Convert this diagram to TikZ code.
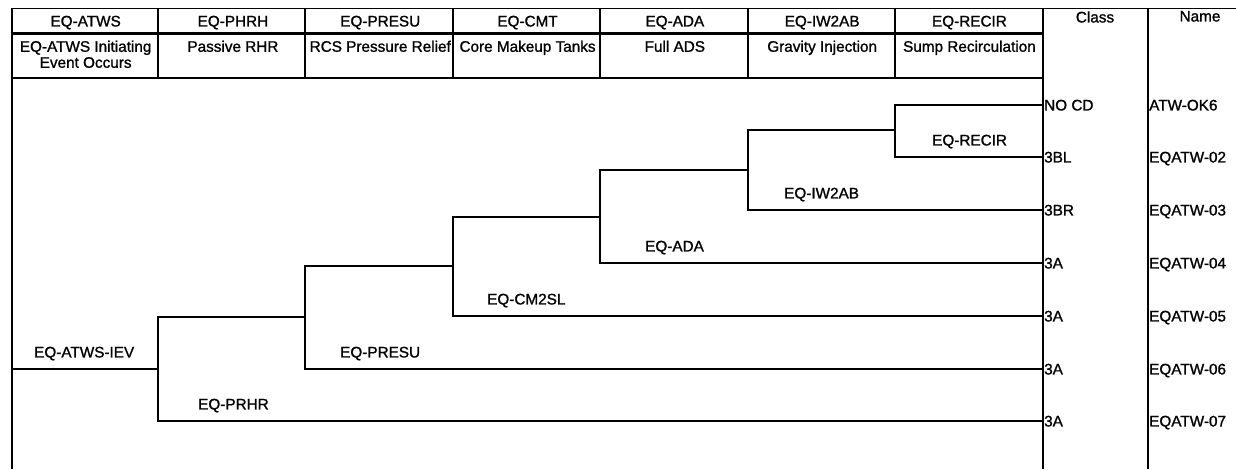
\documentclass[tikz,border=0pt]{standalone}
\usepackage{fontspec}
\setmainfont{Liberation Sans}[FakeBold=1.2]
\tikzset{
  txt/.style={inner sep=1pt, font=\fontsize{15.3}{16}\selectfont, text height=10.9pt, text depth=0pt},
  desc/.style={inner sep=0pt, font=\fontsize{15.3}{16}\selectfont, align=center, anchor=north},
  branch/.style={line width=1.2pt},
  rule/.style={line width=1.6pt},
}
\begin{document}
\begin{tikzpicture}[x=1pt, y=-1pt]
  \useasboundingbox (0,0) rectangle (1236,469);
  % table frame
  \draw[line width=0.8pt] (12,8) -- (1236,8);
  \draw[rule] (12,8) -- (12,469);
  \draw[line width=3pt] (12,33) -- (1043,33);
  \draw[rule] (12,78) -- (1043,78);
  \foreach \x in {158,305,453,600,748,895}
    \draw[rule] (\x,8) -- (\x,78);
  \draw[rule] (1043,8) -- (1043,469);
  \draw[rule] (1148,8) -- (1148,469);
  % column heads
  \foreach \hd [count=\i] in {EQ-ATWS,EQ-PHRH,EQ-PRESU,EQ-CMT,EQ-ADA,EQ-IW2AB,EQ-RECIR}
    \node (hd\i) [txt] at ({12+147.3*(\i-0.5)},21) {\hd};
  \foreach \ds [count=\i] in {{EQ-ATWS Initiating\\Event Occurs},Passive RHR,RCS Pressure Relief,Core Makeup Tanks,Full ADS,Gravity Injection,Sump Recirculation}
    \node (ds\i) [desc] at ({12+147.3*(\i-0.5)},40.5) {\ds};
  \node (hdclass) [txt] at (1095,17) {Class};
  \node (hdname) [txt] at (1200,16) {Name};

  % end states
  \foreach \y/\cls/\nm [count=\i] in {105/NO CD/ATW-OK6, 157/3BL/EQATW-02, 210/3BR/EQATW-03,
      263/3A/EQATW-04, 316/3A/EQATW-05, 369/3A/EQATW-06, 421/3A/EQATW-07} {
    \node (c\i) [txt, anchor=west] at (1043,\y) {\cls};
    \node (n\i) [txt, anchor=west] at (1148,\y) {\nm};
  }

  % branch points
  \coordinate (iev) at (12,369);
  \coordinate (prhr) at (158,369);
  \coordinate (presu) at (305,317);
  \coordinate (cmt) at (453,266);
  \coordinate (ada) at (600,217);
  \coordinate (iw2ab) at (748,170);
  \coordinate (recir) at (895,130);

  \draw[branch] (iev) -- (prhr);
  \draw[branch] (prhr) |- (presu);
  \draw[branch] (prhr) |- (c7.west);
  \draw[branch] (presu) |- (cmt);
  \draw[branch] (presu) |- (c6.west);
  \draw[branch] (cmt) |- (ada);
  \draw[branch] (cmt) |- (c5.west);
  \draw[branch] (ada) |- (iw2ab);
  \draw[branch] (ada) |- (c4.west);
  \draw[branch] (iw2ab) |- (recir);
  \draw[branch] (iw2ab) |- (c3.west);
  \draw[branch] (recir) |- (c1.west);
  \draw[branch] (recir) |- (c2.west);

  % branch labels
  \node (lbliev) [txt, anchor=west] at (33,352) {EQ-ATWS-IEV};
  \node (lblprhr) [txt, anchor=west] at (197,404) {EQ-PRHR};
  \node (lblpresu) [txt, anchor=west] at (339,352) {EQ-PRESU};
  \node (lblcm2sl) [txt, anchor=west] at (486,299) {EQ-CM2SL};
  \node (lblada) [txt, anchor=west] at (644,246) {EQ-ADA};
  \node (lbliw2ab) [txt, anchor=west] at (783,193) {EQ-IW2AB};
  \node (lblrecir) [txt, anchor=west] at (931,140) {EQ-RECIR};
\end{tikzpicture}
\end{document}
